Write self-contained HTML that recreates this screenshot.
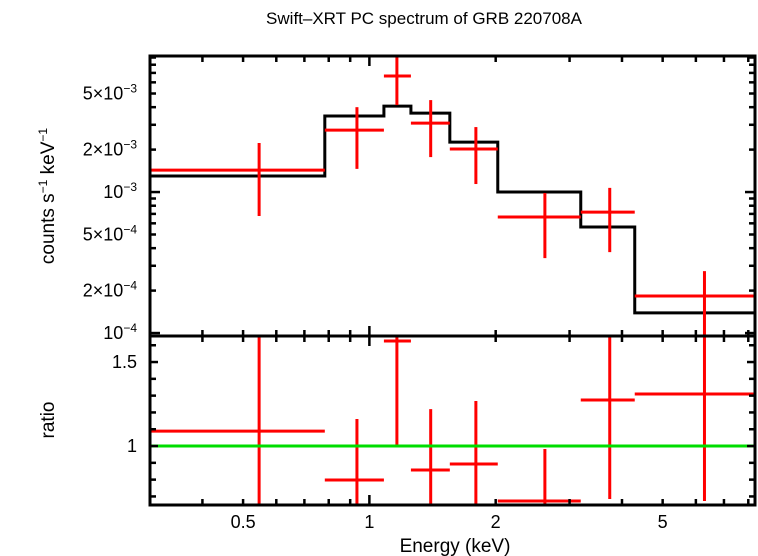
<!DOCTYPE html>
<html><head><meta charset="utf-8"><style>
html,body{margin:0;padding:0;background:#fff;}
svg{display:block;font-family:"Liberation Sans",sans-serif;}
</style></head><body>
<svg id="chart" width="758" height="556" viewBox="0 0 758 556" xmlns="http://www.w3.org/2000/svg">
<defs>
<clipPath id="clipTop"><rect x="150" y="56" width="605" height="280"/></clipPath>
<clipPath id="clipBot"><rect x="150" y="336" width="605" height="169"/></clipPath>
</defs>
<text x="424" y="24" font-size="17" text-anchor="middle">Swift–XRT PC spectrum of GRB 220708A</text>
<text transform="translate(54,196) rotate(-90)" font-size="19" text-anchor="middle">counts s<tspan font-size="12" dy="-7">−1</tspan><tspan dy="7"> keV</tspan><tspan font-size="12" dy="-7">−1</tspan></text>
<text transform="translate(54,420) rotate(-90)" font-size="19" text-anchor="middle">ratio</text>
<text x="455" y="552" font-size="19" text-anchor="middle">Energy (keV)</text>
<g id="gTop"></g><g id="gBot"></g><g id="gAx"></g>
</svg>
<script>
const binLo = [0.3, 0.783, 1.083, 1.256, 1.555, 2.023, 3.19, 4.29];
const binHi = [0.783, 1.083, 1.256, 1.555, 2.023, 3.19, 4.29, 8.3];
const binCenter = [0.546, 0.934, 1.163, 1.40, 1.794, 2.62, 3.74, 6.29];
const dataVal = [1.43e-3, 2.75e-3, 6.65e-3, 3.08e-3, 2.02e-3, 6.65e-4, 7.21e-4, 1.83e-4];
const dataHi = [2.23e-3, 4.0e-3, 9.5e-3, 4.49e-3, 2.89e-3, 9.84e-4, 1.07e-3, 2.75e-4];
const dataLo = [6.76e-4, 1.46e-3, 4.14e-3, 1.77e-3, 1.14e-3, 3.40e-4, 3.75e-4, 5e-5];
const modelVal = [1.30e-3, 3.46e-3, 4.07e-3, 3.63e-3, 2.26e-3, 1.0e-3, 5.65e-4, 1.39e-4];
const ratioVal = [1.089, 0.798, 1.625, 0.857, 0.893, 0.673, 1.274, 1.31];
const ratioHi = [1.9, 1.161, 1.9, 1.22, 1.268, 0.982, 1.9, 1.9];
const ratioLo = [0.4, 0.4, 1.006, 0.4, 0.4, 0.4, 0.685, 0.673];
const xTickLabels = ["0.5", "1", "2", "5"];
const xTickVals = [0.5, 1, 2, 5];
const yRatioLabels = ["1", "1.5"];
const yRatioVals = [1, 1.5];

const X0=150,X1=755,XMIN=0.3,XMAX=8.3;
const TY0=56,TY1=336,LMIN=-4.021,LMAX=-2.035;
const BY0=336,BY1=505,RMIN=0.649,RMAX=1.655;
const NS="http://www.w3.org/2000/svg";
function sx(e){return X0+(Math.log10(e)-Math.log10(XMIN))/(Math.log10(XMAX)-Math.log10(XMIN))*(X1-X0);}
function sy(v){return TY1-(Math.log10(v)-LMIN)/(LMAX-LMIN)*(TY1-TY0);}
function ry(v){return BY1-(v-RMIN)/(RMAX-RMIN)*(BY1-BY0);}
function mk(tag,attrs,parent){const el=document.createElementNS(NS,tag);for(const k in attrs)el.setAttribute(k,attrs[k]);parent.appendChild(el);return el;}
const gTop=document.getElementById('gTop'),gBot=document.getElementById('gBot'),gAx=document.getElementById('gAx');
gTop.setAttribute('clip-path','url(#clipTop)');gBot.setAttribute('clip-path','url(#clipBot)');

let d='';
for(let i=0;i<binLo.length;i++){const y=sy(modelVal[i]);d+=(i===0?'M':'L')+sx(binLo[i])+','+y+'L'+sx(binHi[i])+','+y;}
const model=mk('path',{d:d,fill:'none',stroke:'#000','stroke-width':3},gTop);



for(let i=0;i<binLo.length;i++){
  const g=mk('g',{stroke:'#f00','stroke-width':3},gTop);
  
  
  mk('line',{x1:sx(binLo[i]),x2:sx(binHi[i]),y1:sy(dataVal[i]),y2:sy(dataVal[i])},g);
  mk('line',{x1:sx(binCenter[i]),x2:sx(binCenter[i]),y1:sy(dataLo[i]),y2:sy(dataHi[i])},g);
  const r=mk('g',{stroke:'#f00','stroke-width':3},gBot);
  
  
  mk('line',{x1:sx(binLo[i]),x2:sx(binHi[i]),y1:ry(ratioVal[i]),y2:ry(ratioVal[i])},r);
  mk('line',{x1:sx(binCenter[i]),x2:sx(binCenter[i]),y1:ry(ratioLo[i]),y2:ry(ratioHi[i])},r);
}
const unity=mk('line',{x1:X0,x2:X1,y1:ry(1),y2:ry(1),stroke:'#0d0','stroke-width':3},gBot);



const f1=mk('rect',{x:X0,y:TY0,width:X1-X0,height:TY1-TY0,fill:'none',stroke:'#000','stroke-width':3},gAx);


const f2=mk('rect',{x:X0,y:BY0,width:X1-X0,height:BY1-BY0,fill:'none',stroke:'#000','stroke-width':3},gAx);



const xt=[0.3,0.4,0.5,0.6,0.7,0.8,0.9,1,2,3,4,5,6,7,8];
for(const e of xt){const x=sx(e),L=(e===1)?10:6;
  mk('line',{x1:x,x2:x,y1:TY0,y2:TY0+L,stroke:'#000','stroke-width':2.5},gAx);
  mk('line',{x1:x,x2:x,y1:TY1-L,y2:TY1+L,stroke:'#000','stroke-width':2.5},gAx);
  mk('line',{x1:x,x2:x,y1:BY1,y2:BY1-L,stroke:'#000','stroke-width':2.5},gAx);
}
xTickVals.forEach((v,i)=>{const t=mk('text',{x:sx(v),y:528,'font-size':18,'text-anchor':'middle'},gAx);t.textContent=xTickLabels[i];
  
  });

for(let p=-5;p<=-2;p++){for(let m=1;m<=9;m++){const v=m*Math.pow(10,p);const y=sy(v);if(y<TY0-1||y>TY1+1)continue;const L=m===1?10:6;
  mk('line',{x1:X0,x2:X0+L,y1:y,y2:y,stroke:'#000','stroke-width':2.5},gAx);
  mk('line',{x1:X1,x2:X1-L,y1:y,y2:y,stroke:'#000','stroke-width':2.5},gAx);}}
const topLabels=[[5e-3,'5×10','−3'],[2e-3,'2×10','−3'],[1e-3,'10','−3'],[5e-4,'5×10','−4'],[2e-4,'2×10','−4'],[1e-4,'10','−4']];
for(const [v,b,e] of topLabels){const t=mk('text',{x:137,y:sy(v)+6,'font-size':18,'text-anchor':'end'},gAx);
  
  
  t.innerHTML=b+'<tspan font-size="12" dy="-7">'+e+'</tspan>';}
for(let k=7;k<=16;k++){const v=k/10,y=ry(v);const L=(k%5===0)?8:6;
  mk('line',{x1:X0,x2:X0+L,y1:y,y2:y,stroke:'#000','stroke-width':2.5},gAx);
  mk('line',{x1:X1,x2:X1-L,y1:y,y2:y,stroke:'#000','stroke-width':2.5},gAx);}
yRatioVals.forEach((v,i)=>{const t=mk('text',{x:137,y:ry(v)+6,'font-size':18,'text-anchor':'end'},gAx);t.textContent=yRatioLabels[i];
  
  });
</script>
</body></html>
